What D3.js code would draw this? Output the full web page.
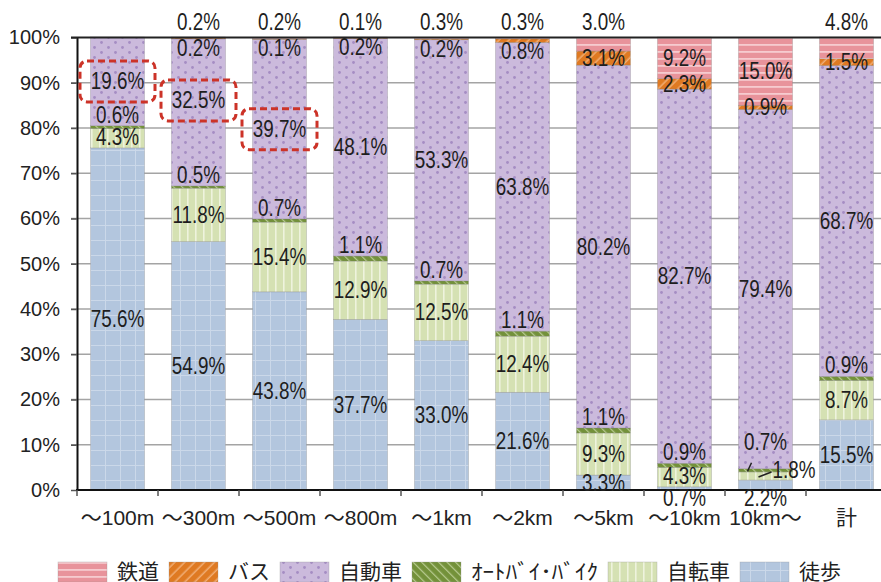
<!DOCTYPE html>
<html>
<head>
<meta charset="utf-8">
<script src="https://cdn.jsdelivr.net/npm/d3@7"></script>
<style>
  body { margin: 0; background: #fff; }
  svg { display: block; }
</style>
</head>
<body>
<svg id="chart" width="881" height="582"></svg>
<script>
// Trip distance bands and the share (%) of each travel mode
const categories = ["～100m", "～300m", "～500m", "～800m", "～1km", "～2km", "～5km", "～10km", "10km～", "計"];
const seriesKeys = ["徒歩", "自転車", "オートバイ・バイク", "自動車", "バス", "鉄道"];

const walking   = [75.6, 54.9, 43.8, 37.7, 33.0, 21.6, 3.3, 0.7, 2.2, 15.5];
const bicycle   = [4.3, 11.8, 15.4, 12.9, 12.5, 12.4, 9.3, 4.3, 1.8, 8.7];
const motorbike = [0.6, 0.5, 0.7, 1.1, 0.7, 1.1, 1.1, 0.9, 0.7, 0.9];
const car       = [19.6, 32.5, 39.7, 48.1, 53.3, 63.8, 80.2, 82.7, 79.4, 68.7];
const bus       = [0, 0.2, 0.1, 0.2, 0.2, 0.8, 3.1, 2.3, 0.9, 1.5];
const rail      = [0, 0.2, 0.2, 0.1, 0.3, 0.3, 3.0, 9.2, 15.0, 4.8];

const yTicks = [0, 10, 20, 30, 40, 50, 60, 70, 80, 90, 100];
const legendKeys  = ["鉄道", "バス", "自動車", "オートバイ・バイク", "自転車", "徒歩"];
const legendNames = ["鉄道", "バス", "自動車", "ｵｰﾄﾊﾞｲ･ﾊﾞｲｸ", "自転車", "徒歩"];
const highlighted = ["～100m", "～300m", "～500m"];

const table = categories.map((c, i) => ({
  category: c,
  "徒歩": walking[i],
  "自転車": bicycle[i],
  "オートバイ・バイク": motorbike[i],
  "自動車": car[i],
  "バス": bus[i],
  "鉄道": rail[i]
}));
const layers = d3.stack().keys(seriesKeys)(table);

const svg = d3.select("#chart");
const W = 881;
const x = d3.scaleBand().domain(categories).range([77, 887]).paddingInner(1 / 3).paddingOuter(1 / 6);
const y = d3.scaleLinear().domain([0, 100]).range([490, 37.5]);

const numFont = "'Liberation Sans', Arial, sans-serif";
const jpFont = "'Noto Sans CJK JP', 'Noto Sans', sans-serif";

// ---- fill patterns for each mode ----
const defs = svg.append("defs");
function pattern(id, w, h, bg, draw, transform) {
  const p = defs.append("pattern").attr("id", id)
    .attr("patternUnits", "userSpaceOnUse").attr("width", w).attr("height", h);
  if (transform) p.attr("patternTransform", transform);
  p.append("rect").attr("width", w).attr("height", h).attr("fill", bg);
  draw(p);
}
pattern("pat-徒歩", 15, 15, "#b3c6de", p => {
  p.append("line").attr("x1", 0.5).attr("x2", 0.5).attr("y1", 0).attr("y2", 15).attr("stroke", "#cbd8e9").attr("stroke-width", 1);
  p.append("line").attr("x1", 0).attr("x2", 15).attr("y1", 0.5).attr("y2", 0.5).attr("stroke", "#cbd8e9").attr("stroke-width", 1);
});
pattern("pat-自転車", 8, 8, "#d5e1b3", p => {
  p.append("rect").attr("x", 3).attr("y", 0).attr("width", 1.6).attr("height", 8).attr("fill", "#eef3dd");
});
pattern("pat-オートバイ・バイク", 6, 6, "#73913a", p => {
  p.append("rect").attr("x", 2).attr("y", 0).attr("width", 1.2).attr("height", 6).attr("fill", "#b9cc92");
}, "rotate(-45)");
pattern("pat-自動車", 14, 10, "#cbbadc", p => {
  p.append("circle").attr("cx", 3.5).attr("cy", 2.5).attr("r", 1.4).attr("fill", "#a58dc3");
  p.append("circle").attr("cx", 10.5).attr("cy", 7.5).attr("r", 1.4).attr("fill", "#a58dc3");
});
pattern("pat-バス", 7, 7, "#df7a22", p => {
  p.append("rect").attr("x", 2.5).attr("y", 0).attr("width", 1.4).attr("height", 7).attr("fill", "#f2b27c");
}, "rotate(45)");
pattern("pat-鉄道", 8, 7, "#e8939b", p => {
  p.append("rect").attr("x", 0).attr("y", 2).attr("width", 8).attr("height", 1.8).attr("fill", "#f6cbcf");
});

// ---- horizontal gridlines (behind bars) ----
svg.append("g").selectAll("line")
  .data(yTicks.filter(t => t > 0 && t < 100))
  .join("line")
  .attr("x1", 71).attr("x2", W)
  .attr("y1", d => y(d)).attr("y2", d => y(d))
  .attr("stroke", "#a4a4a4").attr("stroke-width", 1.5);

// ---- stacked bars ----
svg.append("g").selectAll("g")
  .data(layers)
  .join("g")
  .attr("fill", d => `url(#pat-${d.key})`)
  .selectAll("rect")
  .data(d => d.filter(s => s[1] - s[0] > 0))
  .join("rect")
  .attr("x", d => x(d.data.category))
  .attr("y", d => y(d[1]))
  .attr("width", x.bandwidth())
  .attr("height", d => y(d[0]) - y(d[1]))
  .attr("stroke", "rgba(120,120,120,0.45)")
  .attr("stroke-width", 0.6);

// ---- axes ----
const yAxis = svg.append("g").attr("transform", "translate(77,0)")
  .call(d3.axisLeft(y).tickValues(yTicks).tickSize(6).tickSizeOuter(0).tickPadding(11).tickFormat(d => d + "%"));
yAxis.select(".domain").attr("stroke", "#111").attr("stroke-width", 2);
yAxis.selectAll(".tick line").attr("stroke", "#555").attr("stroke-width", 1.5);
yAxis.selectAll("text").attr("font-family", numFont).attr("font-size", 20).attr("fill", "#222");

// top frame line at 100% and baseline at 0%
svg.append("line").attr("x1", 71).attr("x2", W).attr("y1", y(100)).attr("y2", y(100))
  .attr("stroke", "#222").attr("stroke-width", 2);
svg.append("line").attr("x1", 76).attr("x2", W).attr("y1", y(0)).attr("y2", y(0))
  .attr("stroke", "#111").attr("stroke-width", 2);

const xAxis = svg.append("g").attr("transform", `translate(0,${y(0)})`)
  .call(d3.axisBottom(x).tickSize(0).tickPadding(20));
xAxis.select(".domain").remove();
xAxis.selectAll("text").attr("font-family", `${numFont.split(",")[0]}, ${jpFont}`).attr("font-size", 21).attr("fill", "#222");

// tick marks on the boundaries between categories
const boundaries = d3.range(categories.length + 1).map(i => x.range()[0] + i * x.step());
svg.append("g").selectAll("line")
  .data(boundaries)
  .join("line")
  .attr("x1", d => d).attr("x2", d => d)
  .attr("y1", y(0)).attr("y2", y(0) + 6)
  .attr("stroke", "#555").attr("stroke-width", 1.5);

// ---- value labels ----
const fmt = v => d3.format(".1f")(v) + "%";
const railOf = new Map(categories.map((c, i) => [c, rail[i]]));
const labels = [];
const leaders = [];
layers.forEach(layer => {
  const key = layer.key;
  layer.forEach(d => {
    const v = d.data[key];
    if (!v) return;
    const cat = d.data.category;
    const cx = x(cat) + x.bandwidth() / 2;
    const top = y(d[1]), bot = y(d[0]), mid = (top + bot) / 2;
    let lx = cx, ly = mid + 8, anchor = "middle";
    if (key === "鉄道" && v < 5) {
      ly = y(100) - 8;
    } else if (key === "バス" && railOf.get(cat) < 1) {
      ly = bot + 17;
    } else if (key === "オートバイ・バイク") {
      if (d.data["自転車"] < 2) {
        ly = top - 19;
        leaders.push([cx - 18, mid + 1, cx - 14, top - 6]);
      } else {
        ly = top - 3;
      }
    } else if (key === "自転車" && v < 2) {
      lx = cx + 7; ly = mid + 2; anchor = "start";
      leaders.push([cx - 7, mid + 1, cx + 6, mid - 4]);
    } else if (key === "自転車" && v < 5) {
      ly = mid + 7;
    } else if (key === "徒歩" && v < 3) {
      ly = y(0) + 16;
    }
    if (key === "自動車" && cat === "～300m") ly -= 12;
    labels.push({ key, cat, text: fmt(v), x: lx, y: ly, anchor });
  });
});

// dashed highlight boxes around the car share of the short trips
svg.append("g").selectAll("rect")
  .data(labels.filter(l => l.key === "自動車" && highlighted.includes(l.cat)))
  .join("rect")
  .attr("x", d => d.x - 37.5)
  .attr("y", d => d.y - 8 - 20.5)
  .attr("width", 75).attr("height", 41)
  .attr("rx", 7).attr("ry", 7)
  .attr("fill", "none")
  .attr("stroke", "#cc3328").attr("stroke-width", 3)
  .attr("stroke-dasharray", "7,4");

svg.append("g").selectAll("line")
  .data(leaders)
  .join("line")
  .attr("x1", d => d[0]).attr("y1", d => d[1])
  .attr("x2", d => d[2]).attr("y2", d => d[3])
  .attr("stroke", "#222").attr("stroke-width", 1.5);

svg.append("g").selectAll("text")
  .data(labels)
  .join("text")
  .attr("transform", d => `translate(${d.x},${d.y}) scale(0.82,1)`)
  .attr("text-anchor", d => d.anchor)
  .attr("font-family", numFont)
  .attr("font-size", 23)
  .attr("fill", "#1e1e1e")
  .text(d => d.text);

// ---- legend ----
const legend = svg.append("g");
let lx = 58;
legendKeys.forEach((k, i) => {
  legend.append("rect")
    .attr("x", lx).attr("y", 562).attr("width", 49).attr("height", 20)
    .attr("fill", `url(#pat-${k})`)
    .attr("stroke", "rgba(150,150,150,0.5)").attr("stroke-width", 0.6);
  const t = legend.append("text")
    .attr("x", lx + 59).attr("y", 579)
    .attr("font-family", jpFont).attr("font-size", 21).attr("fill", "#222")
    .text(legendNames[i]);
  // half-width katakana label is set a little wider
  if (/[\uFF61-\uFF9F]/.test(legendNames[i])) {
    t.attr("textLength", 127).attr("lengthAdjust", "spacingAndGlyphs");
  }
  const w = /[\uFF61-\uFF9F]/.test(legendNames[i]) ? 127 : t.node().getComputedTextLength();
  lx = lx + 59 + w + 10;
});
</script>
</body>
</html>
